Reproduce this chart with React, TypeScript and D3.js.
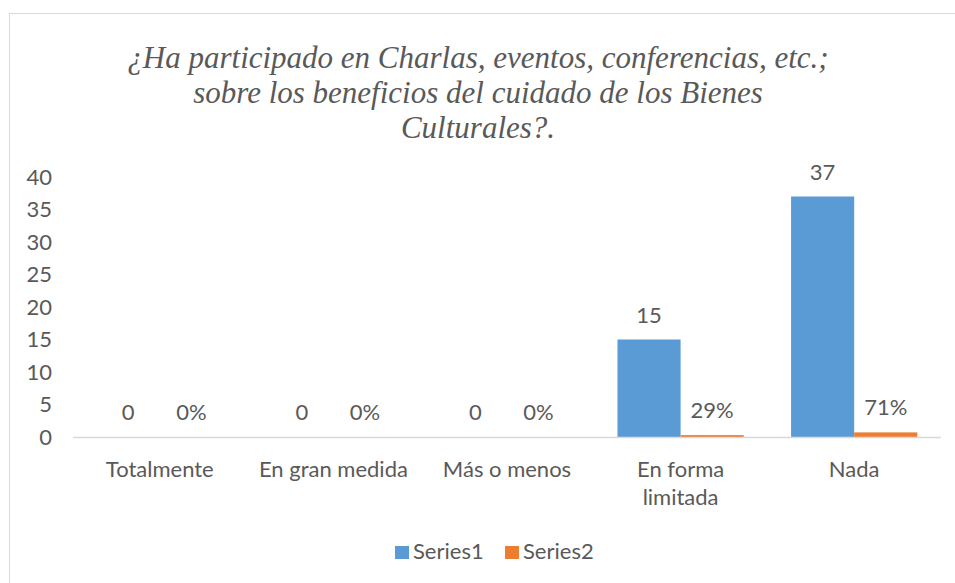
import React from "react";
import * as d3 from "d3";

const categories = ["Totalmente", "En gran medida", "Más o menos", "En forma limitada", "Nada"];
const series1 = [0, 0, 0, 15, 37];
const series2 = [0, 0, 0, 0.29, 0.71];
const series1Labels = ["0", "0", "0", "15", "37"];
const series2Labels = ["0%", "0%", "0%", "29%", "71%"];
const yTicks = [0, 5, 10, 15, 20, 25, 30, 35, 40];
const seriesNames = ["Series1", "Series2"];
const titleLines = [
  "¿Ha participado en Charlas, eventos, conferencias, etc.;",
  "sobre los beneficios del cuidado de los Bienes",
  "Culturales?.",
];

const W = 955;
const H = 583;
const COLORS = ["#5b9bd5", "#ed7d31"];
const TEXT = "#595959";
const FONT = "Lato, 'Open Sans', sans-serif";
const FS = 22;

export default function App() {
  const x0 = d3.scaleBand().domain(categories).range([73, 941]).paddingInner(0).paddingOuter(0);
  const bw = x0.bandwidth();
  const barW = bw / 2.75;
  const y = d3.scaleLinear().domain([0, 40]).range([437, 177]);

  const splitLabel = (c: string) => (c === "En forma limitada" ? ["En forma", "limitada"] : [c]);

  return (
    <svg width={W} height={H} style={{ position: "absolute", left: 0, top: 0, background: "#fff" }}>
      <rect x={9.5} y={13.5} width={960} height={600} fill="#fff" stroke="#d9d9d9" strokeWidth={1} />
      {titleLines.map((t, i) => (
        <text
          key={i}
          x={478}
          y={68 + i * 35}
          textAnchor="middle"
          fontFamily="'Liberation Serif', 'Times New Roman', serif"
          fontStyle="italic"
          fontSize={31}
          fill={TEXT}
        >
          {t}
        </text>
      ))}
      {yTicks.map((t) => (
        <text key={t} x={52} y={y(t)} dy="0.36em" textAnchor="end" fontFamily={FONT} fontSize={FS} fill={TEXT}>
          {t}
        </text>
      ))}
      {categories.map((c, i) => {
        const cx = (x0(c) as number) + bw / 2;
        const b1x = cx - barW;
        const b2x = cx;
        return (
          <g key={c}>
            {series1[i] > 0 && (
              <rect x={b1x} y={y(series1[i])} width={barW} height={y(0) - y(series1[i])} fill={COLORS[0]} />
            )}
            {series2[i] > 0 && (
              <rect x={b2x} y={y(series2[i])} width={barW} height={y(0) - y(series2[i])} fill={COLORS[1]} />
            )}
            <text x={b1x + barW / 2} y={y(series1[i]) - 17} textAnchor="middle" fontFamily={FONT} fontSize={FS} fill={TEXT}>
              {series1Labels[i]}
            </text>
            <text x={b2x + barW / 2} y={y(series2[i]) - 17} textAnchor="middle" fontFamily={FONT} fontSize={FS} fill={TEXT}>
              {series2Labels[i]}
            </text>
            {splitLabel(c).map((l, j) => (
              <text key={j} x={cx} y={477 + j * 28} textAnchor="middle" fontFamily={FONT} fontSize={FS} fill={TEXT}>
                {l}
              </text>
            ))}
          </g>
        );
      })}
      <line x1={73} x2={941} y1={y(0) + 0.5} y2={y(0) + 0.5} stroke="#d9d9d9" strokeWidth={1.5} />
      {seriesNames.map((s, i) => {
        const lx = [395, 505][i];
        return (
          <g key={s}>
            <rect x={lx} y={546} width={14} height={13} fill={COLORS[i]} />
            <text x={lx + 18} y={559} fontFamily={FONT} fontSize={FS} fill={TEXT}>
              {s}
            </text>
          </g>
        );
      })}
    </svg>
  );
}
